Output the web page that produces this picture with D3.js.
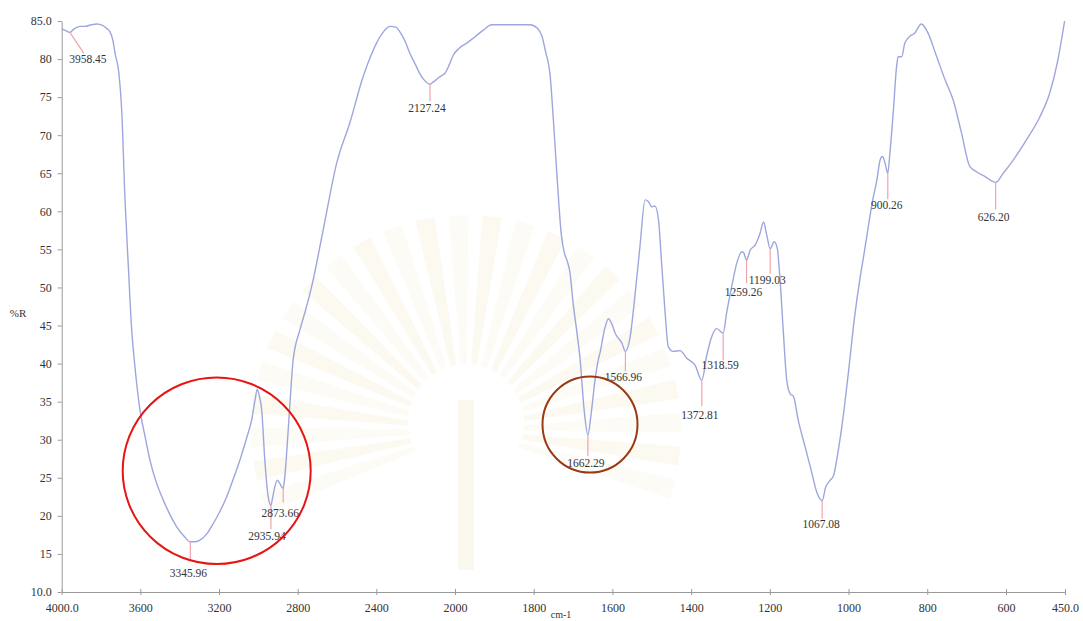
<!DOCTYPE html>
<html>
<head>
<meta charset="utf-8">
<script src="https://cdn.jsdelivr.net/npm/d3@7/dist/d3.min.js"></script>
<style>
  html, body { margin: 0; padding: 0; background: #fff; }
  svg { display: block; }
  .tick text, .lbl { font-family: "Liberation Serif", "DejaVu Serif", serif; fill: #333; }
</style>
</head>
<body>
<svg id="chart" width="1083" height="621"></svg>
<script>
// FTIR reflectance spectrum (%R vs wavenumber)
const wavenumbers = [4000, 3985, 3958.45, 3940, 3905, 3880, 3850, 3822, 3790, 3770, 3755, 3740, 3729, 3709, 3695, 3678, 3661, 3644, 3631, 3602, 3575, 3551, 3520, 3484, 3450, 3416, 3380, 3345.96, 3320, 3297, 3260, 3229, 3195, 3161, 3128, 3094, 3060, 3034, 3015, 3006, 2995, 2983, 2967, 2950, 2935.94, 2928, 2918, 2904, 2892, 2873.66, 2866, 2858, 2840, 2823, 2789, 2760, 2729, 2670, 2602, 2535, 2467, 2430, 2399, 2360, 2331, 2300, 2281, 2255, 2230, 2200, 2179, 2155, 2127.24, 2110, 2095, 2070, 2052, 2030, 2009, 1990, 1970, 1950, 1928, 1907, 1860, 1809, 1790, 1779, 1770, 1758, 1750, 1740, 1730, 1722, 1715, 1708, 1700, 1690, 1682, 1672, 1662.29, 1655, 1645, 1636, 1632, 1620, 1610, 1600, 1593, 1576, 1566.96, 1555, 1543, 1530, 1517, 1509, 1500, 1492, 1483, 1475, 1466, 1458, 1445, 1428, 1411, 1390, 1372.81, 1361, 1348, 1335, 1318.59, 1310, 1297, 1284, 1271, 1266, 1259.26, 1250, 1237, 1225, 1216, 1208, 1199.03, 1189, 1181, 1174, 1166, 1157, 1148, 1140, 1128, 1110, 1095, 1080, 1067.08, 1058, 1048, 1038, 1028, 1015, 1000, 985, 970, 962, 937, 928, 920, 914, 907, 900.26, 895, 886, 878, 874, 865, 857, 844, 832, 815, 798, 776, 755, 734, 713, 692, 675, 654, 626.20, 607, 582, 548, 514, 489, 468, 451];
const reflectance = [84.0, 83.8, 83.5, 83.9, 84.3, 84.3, 84.5, 84.6, 84.4, 84.0, 83.6, 82.5, 80.8, 78.1, 73.3, 61.5, 52.7, 44.4, 40.5, 33.9, 30.3, 27.3, 24.5, 22.1, 20.2, 18.6, 17.4, 16.6, 16.6, 16.8, 17.7, 19.0, 20.6, 22.5, 24.8, 27.3, 30.2, 32.6, 35.5, 36.6, 35.8, 33.9, 27.3, 22.5, 21.4, 22.3, 23.6, 24.7, 24.3, 23.6, 25.0, 27.5, 34.5, 40.5, 44.4, 47.0, 50.1, 57.6, 66.3, 71.6, 77.7, 80.3, 82.1, 83.7, 84.3, 84.2, 83.6, 82.4, 80.8, 79.2, 78.1, 77.2, 76.7, 77.0, 77.3, 77.8, 78.1, 79.2, 80.5, 81.4, 82.1, 82.9, 83.8, 84.5, 84.5, 84.5, 84.0, 83.0, 81.0, 77.7, 72.0, 64.0, 57.0, 54.5, 53.5, 52.0, 48.0, 44.0, 40.5, 34.0, 30.6, 33.0, 37.5, 40.5, 41.3, 44.5, 45.9, 45.0, 44.0, 42.7, 41.6, 43.5, 48.8, 55.4, 61.5, 61.3, 60.6, 60.7, 58.9, 53.2, 46.6, 42.2, 41.6, 41.7, 40.7, 39.8, 37.8, 40.9, 43.5, 44.6, 44.0, 46.6, 50.1, 53.2, 54.7, 54.5, 53.6, 54.9, 55.6, 57.1, 58.6, 56.9, 55.1, 56.0, 55.1, 51.0, 44.4, 37.8, 36.0, 35.7, 32.6, 29.0, 26.0, 23.0, 22.0, 23.8, 24.6, 25.3, 28.0, 32.5, 39.0, 46.0, 51.5, 54.0, 61.9, 64.1, 66.7, 67.2, 66.3, 65.0, 67.6, 73.3, 79.0, 80.3, 80.3, 82.1, 83.0, 83.4, 84.6, 83.4, 80.3, 77.3, 74.6, 70.3, 65.9, 65.2, 64.6, 63.8, 65.0, 66.7, 69.4, 72.4, 75.5, 79.9, 85.0];

// Labelled peaks
const peakLabels = ["3958.45", "3345.96", "2935.94", "2873.66", "2127.24", "1662.29", "1566.96", "1372.81", "1318.59", "1259.26", "1199.03", "1067.08", "900.26", "626.20"];

// Axis ticks
const xTicks = [4000, 3600, 3200, 2800, 2400, 2000, 1800, 1600, 1400, 1200, 1000, 800, 600, 450];
const yTicks = [10, 15, 20, 25, 30, 35, 40, 45, 50, 55, 60, 65, 70, 75, 80, 85];

// Highlighted regions
const highlights = [
  { name: "O-H / C-H stretch", color: "#e81414" },
  { name: "C=O stretch", color: "#9a3a12" }
];

// Peak label layout: marker end offset, text offset
const labelLayout = {
  "3958.45": { dx1: 14, dy1: 21, tx: 18, ty: 31 },
  "3345.96": { dx1: 0, dy1: 18, tx: -2, ty: 35 },
  "2935.94": { dx1: 0, dy1: 24, tx: -4, ty: 35 },
  "2873.66": { dx1: 0, dy1: 14, tx: -3, ty: 29 },
  "2127.24": { dx1: 0, dy1: 17, tx: -3, ty: 28 },
  "1662.29": { dx1: 0, dy1: 21, tx: -2, ty: 32 },
  "1566.96": { dx1: 0, dy1: 20, tx: -2, ty: 30 },
  "1372.81": { dx1: 0, dy1: 26, tx: -2, ty: 39 },
  "1318.59": { dx1: 0, dy1: 27, tx: -3, ty: 36 },
  "1259.26": { dx1: 0, dy1: 23, tx: -3, ty: 36 },
  "1199.03": { dx1: 0, dy1: 25, tx: -3, ty: 35 },
  "1067.08": { dx1: 0, dy1: 18, tx: -1, ty: 27 },
  "900.26":  { dx1: 0, dy1: 26, tx: -1, ty: 36 },
  "626.20":  { dx1: 0, dy1: 27, tx: -2, ty: 39 }
};
// Annotation ellipse geometry (pixels)
const highlightShapes = [
  { cx: 216.7, cy: 470.7, rx: 94, ry: 93.3 },
  { cx: 590, cy: 424.5, rx: 47.5, ry: 48 }
];

const svg = d3.select("#chart");

// Wavenumber axis changes scale at 2000 cm-1
const x = d3.scaleLinear().domain([4000, 2000, 450]).range([61.7, 455, 1065]);
const y = d3.scaleLinear().domain([10, 85]).range([592, 21]);

// Faint background emblem
const emblem = svg.append("g").attr("opacity", 0.2);
const ec = [466, 430];
d3.range(-200, 21, 9).forEach((a, i) => {
  const a0 = (a - 2.6) * Math.PI / 180, a1 = (a + 2.6) * Math.PI / 180;
  const R = 215;
  emblem.append("path")
    .attr("d", `M${ec[0]},${ec[1]} L${ec[0] + R * Math.cos(a0)},${ec[1] + R * Math.sin(a0)} L${ec[0] + R * Math.cos(a1)},${ec[1] + R * Math.sin(a1)} Z`)
    .attr("fill", i % 2 ? "#f3e6b8" : "#f7eed0");
});
emblem.append("circle").attr("cx", ec[0]).attr("cy", ec[1] - 8).attr("r", 58).attr("fill", "#ffffff");
emblem.append("rect").attr("x", ec[0] - 8).attr("y", ec[1] - 30).attr("width", 16).attr("height", 170).attr("fill", "#efe2b4");

// Axes
const fmtY = d => (d === 10 || d === 85) ? d.toFixed(1) : String(d);
const fmtX = d => (d === 4000 || d === 450) ? d.toFixed(1) : String(d);

const yAxis = svg.append("g")
  .attr("transform", `translate(${x(4000)},0)`)
  .call(d3.axisLeft(y).tickValues(yTicks).tickFormat(fmtY).tickSizeInner(4).tickSizeOuter(0).tickPadding(6));

const xAxis = svg.append("g")
  .attr("transform", `translate(0,${y(10)})`)
  .call(d3.axisBottom(x).tickValues(xTicks).tickFormat(fmtX).tickSizeInner(3).tickSizeOuter(0).tickPadding(8));
xAxis.selectAll(".tick").append("line").attr("y2", -3).attr("stroke", "#999");

[yAxis, xAxis].forEach(g => {
  g.select(".domain").attr("stroke", "#9a9a9a");
  g.selectAll(".tick line").attr("stroke", "#9a9a9a");
  g.selectAll(".tick text").attr("font-size", 12).attr("fill", "#333");
});

svg.append("text").attr("class", "lbl").attr("x", 18).attr("y", 317)
  .attr("text-anchor", "middle").attr("font-size", 11).text("%R");
svg.append("text").attr("class", "lbl").attr("x", 561).attr("y", 618)
  .attr("text-anchor", "middle").attr("font-size", 10).text("cm-1");

// Spectrum
const pts = wavenumbers.map((w, i) => [w, reflectance[i]]);
svg.append("path")
  .datum(pts)
  .attr("fill", "none")
  .attr("stroke", "#9ea6de")
  .attr("stroke-width", 1.4)
  .attr("d", d3.line().x(d => x(d[0])).y(d => y(d[1])).curve(d3.curveMonotoneX));

// Peak markers and labels
const lookup = new Map(wavenumbers.map((w, i) => [w.toFixed(2), reflectance[i]]));
peakLabels.forEach(lbl => {
  const wn = +lbl;
  const px = x(wn), py = y(lookup.get(wn.toFixed(2)));
  const L = labelLayout[lbl];
  svg.append("line")
    .attr("x1", px).attr("y1", py)
    .attr("x2", px + L.dx1).attr("y2", py + L.dy1)
    .attr("stroke", "#f0a3ab").attr("stroke-width", 1.2);
  svg.append("text").attr("class", "lbl")
    .attr("x", px + L.tx).attr("y", py + L.ty)
    .attr("text-anchor", "middle").attr("font-size", 11.5)
    .text(lbl);
});

// Highlight annotations
highlights.forEach((h, i) => {
  const s = highlightShapes[i];
  svg.append("ellipse").attr("cx", s.cx).attr("cy", s.cy).attr("rx", s.rx).attr("ry", s.ry)
    .attr("fill", "none").attr("stroke", h.color).attr("stroke-width", 2);
});
</script>
</body>
</html>
